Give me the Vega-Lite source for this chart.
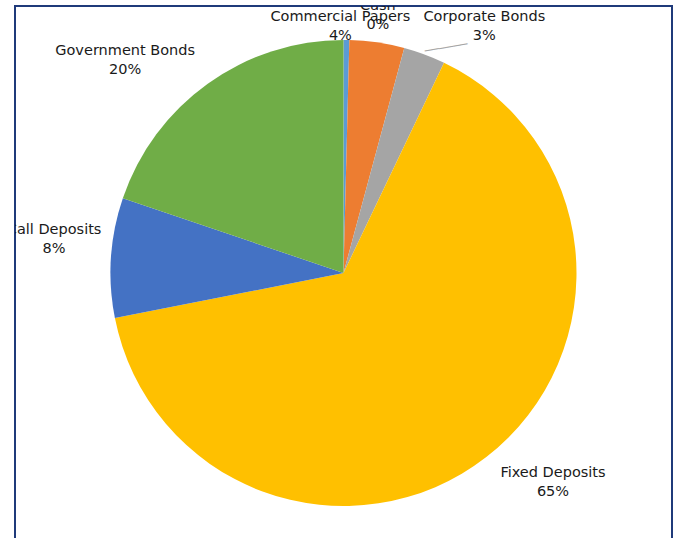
{
  "$schema": "https://vega.github.io/schema/vega-lite/v6.json",
  "width": 657,
  "height": 534,
  "autosize": {"type": "none"},
  "padding": {"left": 15, "top": 6, "right": 8, "bottom": 0},
  "background": "white",
  "view": {"stroke": "#1f3a7a", "strokeWidth": 2},
  "config": {
    "view": {"stroke": "#1f3a7a", "strokeWidth": 2},
    "text": {"align": "center", "baseline": "middle", "lineBreak": "\n", "fontSize": 14.5, "lineHeight": 19, "font": "DejaVu Sans", "color": "#1a1a1a"}
  },
  "data": {
    "values": [
      {"idx": 1, "category": "Cash", "value": 0.4, "label": "Cash\n0%"},
      {"idx": 2, "category": "Commercial Papers", "value": 3.8, "label": "Commercial Papers\n4%"},
      {"idx": 3, "category": "Corporate Bonds", "value": 2.9, "label": "Corporate Bonds\n3%"},
      {"idx": 4, "category": "Fixed Deposits", "value": 64.8, "label": "Fixed Deposits\n65%"},
      {"idx": 5, "category": "Call Deposits", "value": 8.3, "label": "Call Deposits\n8%"},
      {"idx": 6, "category": "Government Bonds", "value": 19.8, "label": "Government Bonds\n20%"}
    ]
  },
  "encoding": {
    "theta": {"field": "value", "type": "quantitative", "stack": true},
    "order": {"field": "idx", "type": "quantitative"},
    "detail": {"field": "category", "type": "nominal"}
  },
  "layer": [
    {
      "mark": {"type": "arc", "outerRadius": 233},
      "encoding": {
        "color": {
          "field": "category",
          "type": "nominal",
          "scale": {
            "domain": ["Cash", "Commercial Papers", "Corporate Bonds", "Fixed Deposits", "Call Deposits", "Government Bonds"],
            "range": ["#5B9BD5", "#ED7D31", "#A5A5A5", "#FFC000", "#4472C4", "#70AD47"]
          },
          "legend": null
        }
      }
    },
    {
      "mark": {"type": "text", "radius": 238, "dx": 20, "dy": 1, "angle": -9.5, "font": "DejaVu Sans Mono", "fontSize": 12, "color": "#a5a5a5"},
      "encoding": {"text": {"condition": {"test": "datum.category === 'Corporate Bonds'", "value": "──────"}, "value": ""}}
    },
    {
      "mark": {"type": "text", "radius": 270, "dx": 31, "dy": 3, "clip": true},
      "encoding": {"text": {"condition": {"test": "datum.category === 'Cash'", "field": "label"}, "value": ""}}
    },
    {
      "mark": {"type": "text", "radius": 270, "dx": -42, "dy": 11, "clip": true},
      "encoding": {"text": {"condition": {"test": "datum.category === 'Commercial Papers'", "field": "label"}, "value": ""}}
    },
    {
      "mark": {"type": "text", "radius": 270, "dx": 47, "dy": -3, "clip": true},
      "encoding": {"text": {"condition": {"test": "datum.category === 'Corporate Bonds'", "field": "label"}, "value": ""}}
    },
    {
      "mark": {"type": "text", "radius": 270, "dx": 44, "dy": -13, "clip": true},
      "encoding": {"text": {"condition": {"test": "datum.category === 'Fixed Deposits'", "field": "label"}, "value": ""}}
    },
    {
      "mark": {"type": "text", "radius": 270, "dx": -20, "dy": -25, "clip": true},
      "encoding": {"text": {"condition": {"test": "datum.category === 'Call Deposits'", "field": "label"}, "value": ""}}
    },
    {
      "mark": {"type": "text", "radius": 270, "dx": -61, "dy": -3, "clip": true},
      "encoding": {"text": {"condition": {"test": "datum.category === 'Government Bonds'", "field": "label"}, "value": ""}}
    }
  ]
}
